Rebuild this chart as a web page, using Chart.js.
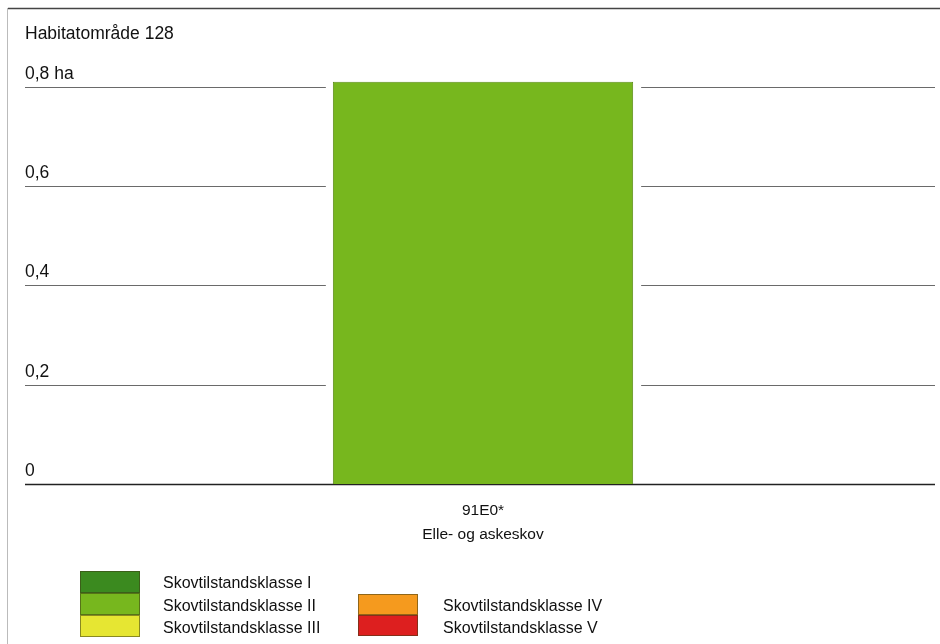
<!DOCTYPE html>
<html><head><meta charset="utf-8">
<script src="https://cdn.jsdelivr.net/npm/chart.js@4/dist/chart.umd.min.js"></script>
<style>
html,body{margin:0;padding:0;background:#fff;}
#wrap{position:relative;width:940px;height:644px;}
</style></head>
<body><div id="wrap"><canvas id="c" width="940" height="644"></canvas></div>
<script>
const title = "Habitatområde 128";
const categories = [["91E0*", "Elle- og askeskov"]];
const classLabels = ["Skovtilstandsklasse I","Skovtilstandsklasse II","Skovtilstandsklasse III","Skovtilstandsklasse IV","Skovtilstandsklasse V"];
const classColors = ["#3b8a1f","#77b71e","#e6e632","#f59a1e","#dd1f1f"];
const classValues = [[0],[0.81],[0],[0],[0]];
const yTicks = [0, 0.2, 0.4, 0.6, 0.8];
const yTickLabels = ["0", "0,2", "0,4", "0,6", "0,8 ha"];

const FONT = "Liberation Sans, Arial, sans-serif";

const datasets = classLabels.map((l,i)=>({
  label:l, data:classValues[i], backgroundColor:classColors[i],
  borderColor:"#5c8d18", borderWidth:classValues[i][0]>0?1:0,
  barPercentage:1, categoryPercentage:0.33
}));

const custom = {
  id:'custom',
  beforeDatasetsDraw(chart){
    const ctx = chart.ctx, y = chart.scales.y;
    let bl=Infinity, br=-Infinity;
    chart.data.datasets.forEach((d,i)=>{
      chart.getDatasetMeta(i).data.forEach(b=>{
        if(d.data[0]>0){ bl=Math.min(bl,b.x-b.width/2); br=Math.max(br,b.x+b.width/2); }
      });
    });
    ctx.save();
    ctx.strokeStyle="#444"; ctx.lineWidth=1.5;
    ctx.beginPath(); ctx.moveTo(8,8.5); ctx.lineTo(940,8.5); ctx.stroke();
    ctx.strokeStyle="#bbb"; ctx.lineWidth=1;
    ctx.beginPath(); ctx.moveTo(7.5,8); ctx.lineTo(7.5,644); ctx.stroke();
    ctx.fillStyle="#111"; ctx.font="17.5px "+FONT; ctx.textBaseline="alphabetic"; ctx.textAlign="left";
    ctx.fillText(title, 25, 38.5);
    yTicks.forEach((v,i)=>{
      const py = Math.round(y.getPixelForValue(v))+0.5;
      ctx.fillStyle="#111"; ctx.font="17.5px "+FONT;
      ctx.fillText(yTickLabels[i], 25, py-8.5);
      if(v===0){
        ctx.strokeStyle="#222"; ctx.lineWidth=1.6;
        ctx.beginPath(); ctx.moveTo(25,py); ctx.lineTo(935,py); ctx.stroke();
      } else {
        ctx.strokeStyle="#6a6a6a"; ctx.lineWidth=1;
        ctx.beginPath(); ctx.moveTo(25,py); ctx.lineTo(bl-7,py);
        ctx.moveTo(br+8,py); ctx.lineTo(935,py); ctx.stroke();
      }
    });
    ctx.restore();
  },
  afterDraw(chart){
    const ctx = chart.ctx, x = chart.scales.x;
    ctx.save();
    ctx.fillStyle="#111"; ctx.textAlign="center"; ctx.font="15.5px "+FONT;
    categories.forEach((c,i)=>{
      const px = x.getPixelForValue(i);
      c.forEach((line,j)=>ctx.fillText(line, px, 515+j*24));
    });
    const pos = [[80,571],[80,593],[80,615],[358,594],[358,615]];
    const hgt = [22,22,22,21,21];
    const txt = [[163,588],[163,611],[163,633],[443,611],[443,633]];
    ctx.textAlign="left"; ctx.font="16px "+FONT;
    chart.data.datasets.forEach((d,i)=>{
      ctx.fillStyle=d.backgroundColor;
      ctx.fillRect(pos[i][0],pos[i][1],60,hgt[i]);
      ctx.strokeStyle="rgba(60,60,20,0.55)"; ctx.lineWidth=1;
      ctx.strokeRect(pos[i][0]+0.5,pos[i][1]+0.5,59,hgt[i]-1);
      ctx.fillStyle="#111";
      ctx.fillText(d.label, txt[i][0], txt[i][1]);
    });
    ctx.restore();
  }
};

new Chart(document.getElementById('c'), {
  type:'bar',
  data:{labels:categories.map(c=>c.join(' ')), datasets},
  options:{
    responsive:false, animation:false,
    layout:{padding:{left:28,right:2,top:62,bottom:160}},
    plugins:{legend:{display:false},tooltip:{enabled:false},title:{display:false}},
    scales:{
      x:{stacked:true, display:false},
      y:{stacked:true, display:false, min:0, max:0.85}
    }
  },
  plugins:[custom]
});
</script></body></html>
